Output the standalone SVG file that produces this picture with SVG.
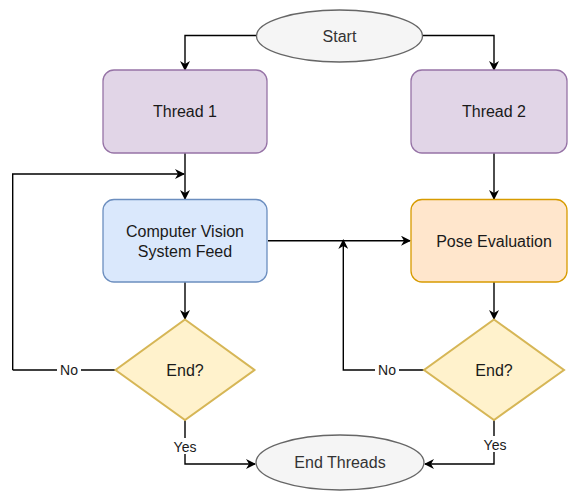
<svg xmlns="http://www.w3.org/2000/svg" width="569" height="491" viewBox="0 0 569 491">
  <style>
    text { font-family: "Liberation Sans", Arial, sans-serif; font-size: 16px; fill: #1a1a1a; text-anchor: middle; }
    .term { fill: #f5f5f5; stroke: #666666; stroke-width: 1.3; }
    .term-text { fill: #333333; }
    .thread { fill: #e1d5e7; stroke: #9673a6; stroke-width: 1.3; }
    .feed { fill: #dae8fc; stroke: #6c8ebf; stroke-width: 1.3; }
    .pose { fill: #ffe6cc; stroke: #d79b00; stroke-width: 1.3; }
    .decision { fill: #fff2cc; stroke: #d6b656; stroke-width: 2; }
    .edge { fill: none; stroke: #000000; stroke-width: 1.4; marker-end: url(#arrow); }
    .plain { fill: none; stroke: #000000; stroke-width: 1.4; }
    .lbl { font-size: 14px; }
    .lbl-bg { fill: #ffffff; }
  </style>
  <defs>
    <marker id="arrow" viewBox="0 0 10 10" refX="9" refY="5" markerWidth="10" markerHeight="10" markerUnits="userSpaceOnUse" orient="auto">
      <path d="M0,0 L10,5 L0,10 L3,5 Z" fill="#000000"/>
    </marker>
  </defs>

  <rect width="569" height="491" fill="#ffffff"/>

  <!-- connectors -->
  <g id="connectors">
    <path class="edge" d="M256,35.5 H185 V70"/>
    <path class="edge" d="M422,35.5 H494 V70"/>
    <path class="edge" d="M185,153 V199"/>
    <path class="edge" d="M494,153 V199"/>
    <path class="edge" d="M12.7,370 V174 H184"/>
    <path class="plain" d="M115,370 H12.7"/>
    <path class="edge" d="M268,240.7 H410"/>
    <path class="edge" d="M424,370 H343.3 V240"/>
    <path class="edge" d="M185,282 V319"/>
    <path class="edge" d="M494,282 V319"/>
    <path class="edge" d="M185,420 V464 H255"/>
    <path class="edge" d="M494,420 V464 H425"/>
    <!-- edge labels -->
    <rect class="lbl-bg" x="57" y="361" width="24" height="16"/>
    <text class="lbl" x="69" y="375">No</text>
    <rect class="lbl-bg" x="375" y="361" width="24" height="16"/>
    <text class="lbl" x="387" y="375">No</text>
    <rect class="lbl-bg" x="171" y="438" width="28" height="16"/>
    <text class="lbl" x="185" y="452">Yes</text>
    <rect class="lbl-bg" x="481" y="436" width="28" height="16"/>
    <text class="lbl" x="495" y="450">Yes</text>
  </g>

  <g id="start">
    <ellipse class="term" cx="339.5" cy="36" rx="83" ry="26"/>
    <text class="term-text" x="339.5" y="41.5">Start</text>
  </g>

  <g id="thread1">
    <rect class="thread" x="103" y="70" width="164" height="83" rx="11"/>
    <text x="185" y="117">Thread 1</text>
  </g>

  <g id="thread2">
    <rect class="thread" x="411" y="70" width="156" height="83" rx="11"/>
    <text x="494" y="117">Thread 2</text>
  </g>

  <g id="cv-feed">
    <rect class="feed" x="103" y="199.5" width="164" height="82.5" rx="11"/>
    <text x="185" y="236.5">Computer Vision</text>
    <text x="185" y="256.5">System Feed</text>
  </g>

  <g id="pose-eval">
    <rect class="pose" x="411" y="199.5" width="156" height="82.5" rx="11"/>
    <text x="494" y="246.5">Pose Evaluation</text>
  </g>

  <g id="end1">
    <polygon class="decision" points="185,319.5 254.5,370 185,420 115.5,370"/>
    <text x="185" y="375.5">End?</text>
  </g>

  <g id="end2">
    <polygon class="decision" points="494,319.5 564,370 494,420 424,370"/>
    <text x="494" y="375.5">End?</text>
  </g>

  <g id="end-threads">
    <ellipse class="term" cx="340" cy="462.5" rx="84" ry="27.5"/>
    <text class="term-text" x="340" y="468">End Threads</text>
  </g>
</svg>
